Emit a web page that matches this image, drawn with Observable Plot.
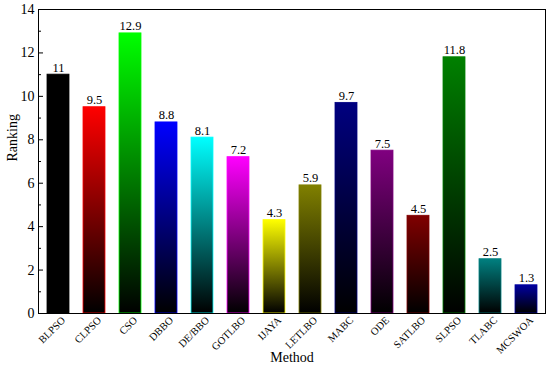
<!DOCTYPE html>
<html><head><meta charset="utf-8">
<script src="https://cdn.jsdelivr.net/npm/d3@7"></script>
<script src="https://cdn.jsdelivr.net/npm/@observablehq/plot@0.6"></script>
<style>
body{margin:0;background:#fff}
svg, svg text{font-family:'Times New Roman','Liberation Serif',serif !important}
</style>
</head><body><div id="chart"></div>
<script>
const methods = ["BLPSO","CLPSO","CSO","DBBO","DE/BBO","GOTLBO","IJAYA","LETLBO","MABC","ODE","SATLBO","SLPSO","TLABC","MCSWOA"];
const rankings = [11, 9.5, 12.9, 8.8, 8.1, 7.2, 4.3, 5.9, 9.7, 7.5, 4.5, 11.8, 2.5, 1.3];
const colors = ["#000000","#ff0000","#00ff00","#0000ff","#00ffff","#ff00ff","#ffff00","#808000","#000080","#800080","#800000","#008000","#008080","#0000a0"];
const majorTicks = [0, 2, 4, 6, 8, 10, 12, 14];
const minorTicks = [1, 3, 5, 7, 9, 11, 13];

const data = methods.map((m, i) => ({method: m, rank: rankings[i], color: colors[i], grad: `url(#grad${i})`}));

const W = 550, H = 371, ML = 38, MR = 5, MT = 9, MB = 58;
const plotW = W - ML - MR;

function gradients() {
  const defs = d3.create("svg:defs");
  colors.forEach((c, i) => {
    const g = defs.append("linearGradient").attr("id", `grad${i}`)
      .attr("x1", 0).attr("y1", 0).attr("x2", 0).attr("y2", 1);
    g.append("stop").attr("offset", "0%").attr("stop-color", c);
    g.append("stop").attr("offset", "100%").attr("stop-color", "#000000");
  });
  return defs.node();
}

const chart = Plot.plot({
  width: W, height: H,
  marginLeft: ML, marginRight: MR, marginTop: MT, marginBottom: MB,
  style: {fontFamily: "Times New Roman, Liberation Serif, serif", background: "#fff"},
  x: {domain: methods, paddingInner: 0.39, paddingOuter: 0.205, label: null},
  y: {domain: [0, 14], label: null},
  color: {type: "identity"},
  marks: [
    gradients,
    Plot.barY(data, {x: "method", y: "rank", fill: "grad", stroke: "color", strokeWidth: 0.8}),
    Plot.text(data, {x: "method", y: "rank", text: d => String(d.rank), dy: -7, fontSize: 12.5, fill: "#000"}),
    Plot.frame({stroke: "#000", strokeWidth: 1}),
    Plot.ruleY(majorTicks, {y: d => d, insetRight: plotW - 5, stroke: "#000"}),
    Plot.ruleY(minorTicks, {y: d => d, insetRight: plotW - 3, stroke: "#000"}),
    Plot.axisY(majorTicks, {tickSize: 0, tickPadding: 4, fontSize: 14, label: null, tickFormat: d => String(d)}),
    Plot.axisX({tickSize: 0, tickRotate: -45, tickPadding: 5, dx: 5, fontSize: 10.5, label: null}),
    Plot.text(["Ranking"], {frameAnchor: "left", dx: -26, rotate: -90, fontSize: 14, fill: "#000"}),
    Plot.text(["Method"], {frameAnchor: "bottom", dy: 48, fontSize: 14, fill: "#000"})
  ]
});
document.getElementById("chart").appendChild(chart);
</script>
</body></html>
